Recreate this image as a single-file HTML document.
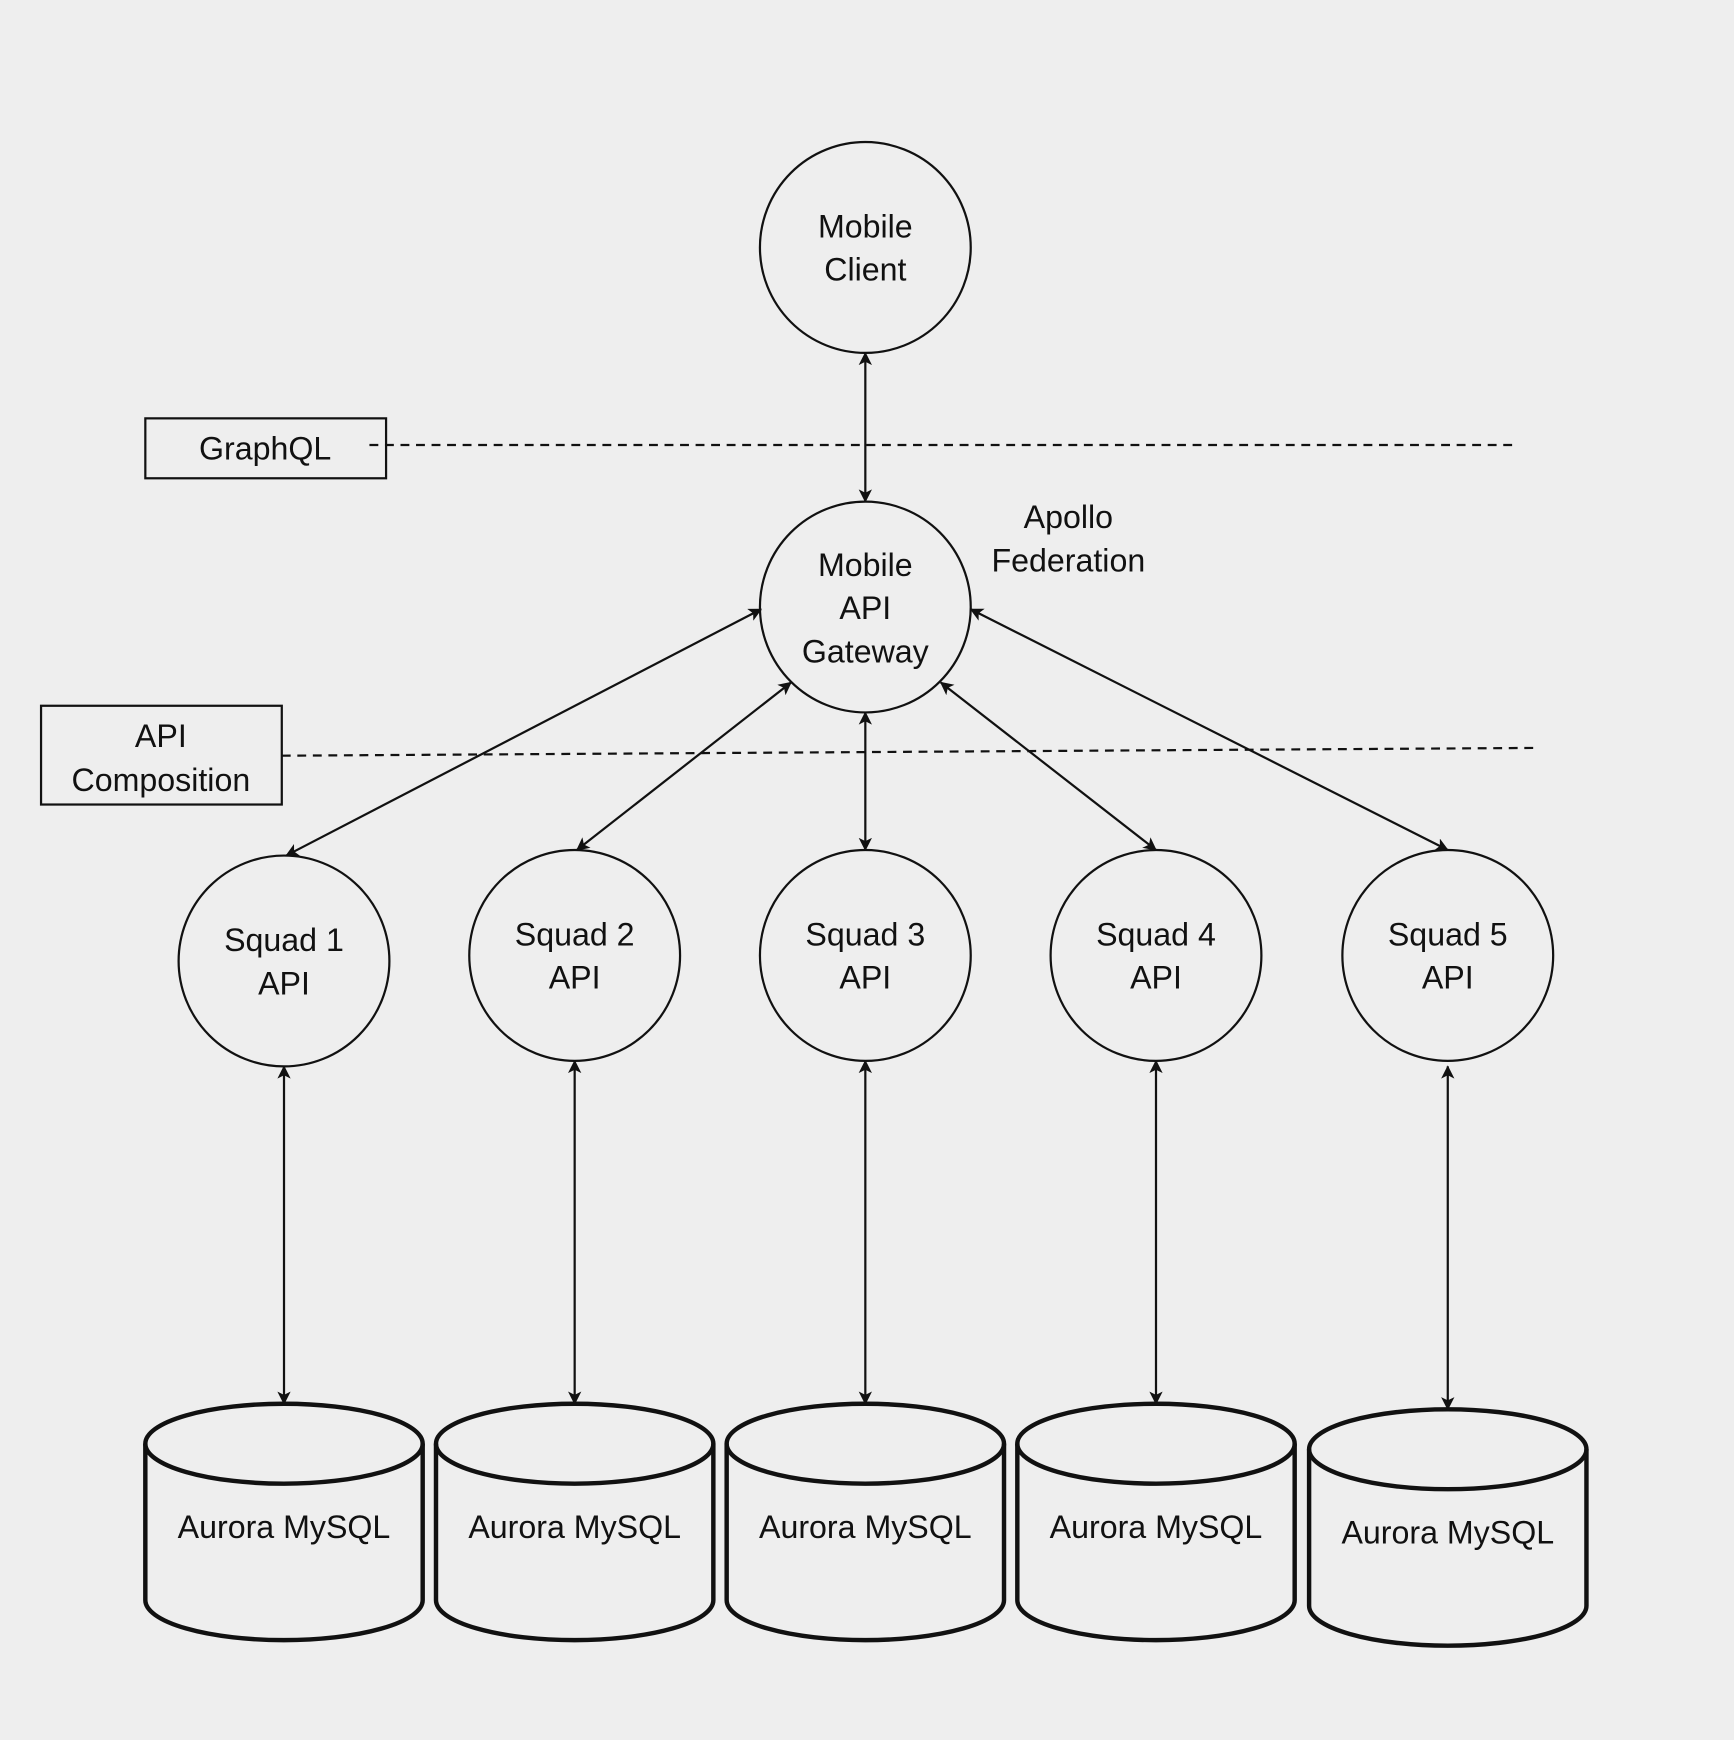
<!DOCTYPE html>
<html><head><meta charset="utf-8"><style>
html,body{margin:0;padding:0;background:#eeeeee;}
svg{display:block;}
text{font-family:"Liberation Sans",sans-serif;fill:#111;}
</style></head><body>
<svg width="1734" height="1740" viewBox="0 0 1563 1568" preserveAspectRatio="none" xmlns="http://www.w3.org/2000/svg">
<defs>
<marker id="a" viewBox="0 0 12 12" refX="11" refY="6" markerWidth="12" markerHeight="12" markerUnits="userSpaceOnUse" orient="auto-start-reverse">
<path d="M0,0 L12,6 L0,12 L3,6 Z" fill="#111"/>
</marker>
</defs>
<rect width="1563" height="1568" fill="#eeeeee"/>
<g stroke="#111" stroke-width="2" fill="none">
<line x1="333" y1="401" x2="1365" y2="401" stroke-dasharray="8,6"/>
<line x1="254" y1="681" x2="1383" y2="674" stroke-dasharray="8,6"/>
<rect x="131" y="377" width="217" height="54"/>
<rect x="37" y="636" width="217" height="89"/>
<circle cx="780" cy="223" r="95"/>
<circle cx="780" cy="547" r="95"/>
<circle cx="256" cy="866" r="95"/>
<circle cx="518" cy="861" r="95"/>
<circle cx="780" cy="861" r="95"/>
<circle cx="1042" cy="861" r="95"/>
<circle cx="1305" cy="861" r="95"/>
<g marker-start="url(#a)" marker-end="url(#a)">
<line x1="780" y1="318" x2="780" y2="452"/>
<line x1="686" y1="549" x2="258" y2="771"/>
<line x1="713" y1="615" x2="520" y2="766"/>
<line x1="780" y1="642" x2="780" y2="766"/>
<line x1="848" y1="615" x2="1042" y2="766"/>
<line x1="875" y1="549" x2="1305" y2="766"/>
<line x1="256" y1="961" x2="256" y2="1265"/>
<line x1="518" y1="956" x2="518" y2="1265"/>
<line x1="780" y1="956" x2="780" y2="1265"/>
<line x1="1042" y1="956" x2="1042" y2="1265"/>
<line x1="1305" y1="961" x2="1305" y2="1270"/>
</g>
</g>
<g stroke="#111" stroke-width="4" fill="none">
<g id="cyl">
<path d="M131,1301 A125,36 0 0 1 381,1301 L381,1442 A125,36 0 0 1 131,1442 Z"/>
<path d="M131,1301 A125,36 0 0 0 381,1301"/>
</g>
<use href="#cyl" x="262"/>
<use href="#cyl" x="524"/>
<use href="#cyl" x="786"/>
<use href="#cyl" x="1049" y="5"/>
</g>
<g font-size="29" text-anchor="middle">
<text x="780" y="214">Mobile</text><text x="780" y="253">Client</text>
<text x="780" y="519">Mobile</text><text x="780" y="558">API</text><text x="780" y="597">Gateway</text>
<text x="963" y="476">Apollo</text><text x="963" y="515">Federation</text>
<text x="239" y="414">GraphQL</text>
<text x="145" y="673">API</text><text x="145" y="713">Composition</text>
<text x="256" y="857">Squad 1</text><text x="256" y="896">API</text>
<text x="518" y="852">Squad 2</text><text x="518" y="891">API</text>
<text x="780" y="852">Squad 3</text><text x="780" y="891">API</text>
<text x="1042" y="852">Squad 4</text><text x="1042" y="891">API</text>
<text x="1305" y="852">Squad 5</text><text x="1305" y="891">API</text>
<text x="256" y="1386">Aurora MySQL</text>
<text x="518" y="1386">Aurora MySQL</text>
<text x="780" y="1386">Aurora MySQL</text>
<text x="1042" y="1386">Aurora MySQL</text>
<text x="1305" y="1391">Aurora MySQL</text>
</g>
</svg>
</body></html>
